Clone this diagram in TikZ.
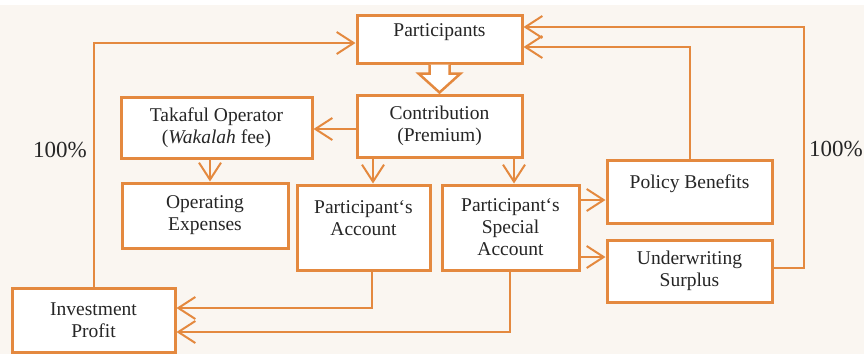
\documentclass[tikz,border=0pt]{standalone}
\usepackage{fontspec}
\setmainfont{Liberation Serif}
\usetikzlibrary{arrows.meta,calc}
\definecolor{tor}{HTML}{E4893F}
\definecolor{bgc}{HTML}{FAF6F1}
\begin{document}
\begin{tikzpicture}[x=1pt,y=-1pt,
  box/.style={draw=tor,line width=3pt,fill=white,inner sep=0pt,align=center,
    font=\fontsize{19.5}{22}\selectfont,text=black!85},
  conn/.style={draw=tor,line width=2pt,-{Straight Barb[length=17pt,width=22pt,line width=2pt]}},
  blockarrow/.style={draw=tor,line width=2.5pt,fill=white,line join=miter},
  pct/.style={font=\fontsize{23}{26}\selectfont,text=black!85,inner sep=0pt}]
\useasboundingbox (0,0) rectangle (864,354);
\fill[bgc] (0,5) rectangle (864,354);
\fill[white] (0,0) rectangle (864,5);

\node[box,minimum width=165pt,minimum height=48pt] (part) at (439.5,39) {Participants\\[-4pt]\mbox{}};
\node[box,minimum width=165pt,minimum height=62pt] (contrib) at (439.5,126) {Contribution\\(Premium)};
\node[box,minimum width=191pt,minimum height=61pt] (tak) at (216.5,127.5) {Takaful Operator\\(\textit{Wakalah} fee)};
\node[box,minimum width=166pt,minimum height=65pt] (opex) at (205,215.5) {Operating\\Expenses};
\node[box,minimum width=133pt,minimum height=85pt] (pa) at (363.5,227.5) {Participant`s\\Account\\[-2pt]\mbox{}};
\node[box,minimum width=137pt,minimum height=85pt] (psa) at (510.5,227.5) {Participant`s\\Special\\Account};
\node[box,minimum width=165pt,minimum height=63pt] (pb) at (689.5,191.5) {Policy Benefits\\[-2pt]\mbox{}};
\node[box,minimum width=165pt,minimum height=62pt] (us) at (689.5,271) {Underwriting\\Surplus};
\node[box,minimum width=163pt,minimum height=64pt] (ip) at (93.5,320) {Investment\\Profit};

\node[pct] (l1) at (60,150) {100\%};
\node[pct,anchor=east] (l2) at (863,149) {100\%};

\coordinate (c1) at (804,27);

% block arrow
\draw[blockarrow] ($(part.south)+(-10,0)$) -- ($(part.south)+(-10,9)$) -- ($(part.south)+(-21,9)$)
  -- ($(contrib.north)+(0,-1)$) -- ($(part.south)+(21,9)$) -- ($(part.south)+(10,9)$) -- ($(part.south)+(10,0)$);

\draw[conn] (contrib.west |- 0,129) -- (tak.east |- 0,129);
\draw[conn] (tak.south -| 210,0) -- (opex.north -| 210,0);
\draw[conn] (contrib.south -| 373,0) -- (pa.north -| 373,0);
\draw[conn] (contrib.south -| 514,0) -- (psa.north -| 514,0);
\draw[conn] (psa.east |- 0,200) -- (pb.west |- 0,200);
\draw[conn] (psa.east |- 0,257) -- (us.west |- 0,257);
\draw[conn] (pa.south -| 372,0) |- (ip.east |- 0,308);
\draw[conn] (psa.south -| 510,0) |- (ip.east |- 0,332);
\draw[conn] (ip.north -| 94,0) |- (part.west |- 0,43);
\draw[conn] (pb.north) |- (part.east |- 0,47);
\draw[conn] (us.east |- 0,268) -| (c1) -- (part.east |- c1);
\end{tikzpicture}
\end{document}
